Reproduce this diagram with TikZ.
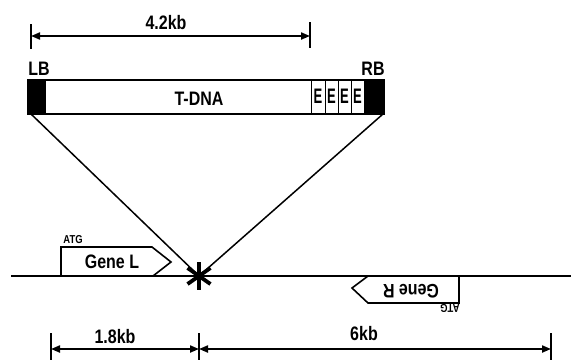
\documentclass[tikz,border=0pt]{standalone}
\usepackage{fontspec}
\setmainfont{Liberation Sans}
\usetikzlibrary{arrows.meta,calc}
\newcommand{\nar}[1]{\scalebox{0.82}[1]{#1}}
\newcommand{\enar}[1]{\scalebox{0.62}[1]{#1}}
\tikzset{
  lbl/.style={font=\bfseries\fontsize{19.5}{19.5}\selectfont, inner sep=0pt},
  small/.style={font=\bfseries\fontsize{11.5}{11.5}\selectfont, inner sep=0pt},
  elbl/.style={font=\bfseries\fontsize{21}{21}\selectfont, inner sep=0pt},
  dimline/.style={line width=2pt, {Triangle[length=9pt,width=7pt]}-{Triangle[length=9pt,width=7pt]}},
  tickline/.style={line width=1.3pt},
  thinline/.style={line width=0.8pt},
  boxline/.style={line width=2pt},
  diag/.style={line width=1.5pt},
  genebox/.style={line width=1.6pt, fill=white, line join=miter},
}
\begin{document}
\begin{tikzpicture}[x=1pt,y=-1pt]
\useasboundingbox[fill=white] (0,0) rectangle (571,360);

% top dimension
\coordinate (t1a) at (31,24); \coordinate (t1b) at (31,49);
\coordinate (t2a) at (310,22); \coordinate (t2b) at (310,48);
\draw[tickline] (t1a) -- (t1b);
\draw[tickline] (t2a) -- (t2b);
\coordinate (d1) at (31,36); \coordinate (d2) at (310,36);
\draw[dimline] (d1) -- (d2);
\node[lbl] (lab42) at (166,23) {\nar{4.2kb}};

% T-DNA box
\node[lbl] (LB) at (39,69) {\nar{LB}};
\node[lbl] (RB) at (373,69) {\nar{RB}};
\fill (28,80) rectangle (46,114);
\fill (364,80) rectangle (384,114);
\foreach \x in {311,325,338,351} \draw[thinline] (\x,80) -- (\x,114);
\draw[boxline] (28,80) rectangle (384,114);
\node[lbl] (tdna) at (199,99) {\nar{T-DNA}};
\node[elbl] (e1) at (318,96) {\enar{E}};
\node[elbl] (e2) at (331.5,96) {\enar{E}};
\node[elbl] (e3) at (344.5,96) {\enar{E}};
\node[elbl] (e4) at (357.5,96) {\enar{E}};

\coordinate (boxBL) at (31,114);
\coordinate (boxBR) at (383,114);
\coordinate (ins) at (199,276);

% chromosome
\coordinate (chrL) at (11,276);
\coordinate (chrR) at (571,276);

% genes
\draw[genebox] (61,276) -- (61,247) -- (152,247) -- (171,262) -- (153,276);
\node[lbl] (geneL) at (112,262) {\nar{Gene L}};
\node[small] (atgL) at (73,240) {\nar{ATG}};
\draw[genebox] (459,276) -- (459,303) -- (368,303) -- (352,288) -- (368,276);
\node[lbl, rotate=180] (geneR) at (411,291) {\nar{Gene R}};
\node[small, rotate=180] (atgR) at (450,308) {\nar{ATG}};

\draw[line width=2pt] (chrL) -- (chrR);
\draw[diag] (boxBL) -- (ins);
\draw[diag] (boxBR) -- (ins);

% asterisk
\foreach \a in {90,35,145} \draw[line width=3.8pt] ($(ins)+(\a:-14)$) -- ($(ins)+(\a:14)$);

% bottom dimensions
\foreach \x in {51,199,551} \draw[tickline] (\x,333) -- (\x,360);
\coordinate (b1) at (51,349); \coordinate (b2) at (199,349); \coordinate (b3) at (551,349);
\draw[dimline] (b1) -- (b2);
\draw[dimline] (b2) -- (b3);
\node[lbl] (lab18) at (115,337) {\nar{1.8kb}};
\node[lbl] (lab6) at (364,334) {\nar{6kb}};
\end{tikzpicture}
\end{document}
